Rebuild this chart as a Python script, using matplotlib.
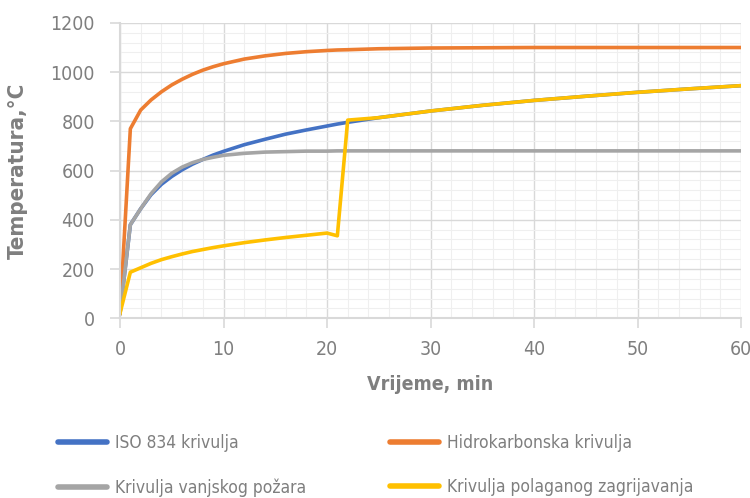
import matplotlib

matplotlib.use("Agg")
import matplotlib.pyplot as plt
from matplotlib.ticker import MultipleLocator

plt.rcParams["font.family"] = ["DejaVu Sans"]
plt.rcParams["font.stretch"] = "condensed"

# vrijeme (min)
t = [0, 1, 2, 3, 4, 5, 6, 7, 8, 9, 10, 12, 14, 16, 18, 20, 21, 22, 25, 30, 35, 40, 45, 50, 55, 60]

iso834 = [20, 380, 445, 502, 544, 576, 603, 626, 645, 663, 678, 705, 727, 748, 765, 781,
          789, 796, 815, 842, 865, 885, 902, 918, 932, 945]
hidro = [20, 770, 846, 887, 920, 948, 971, 991, 1008, 1022, 1034, 1053, 1066, 1076, 1083, 1088,
         1090, 1091, 1095, 1098, 1099, 1100, 1100, 1100, 1100, 1100]
vanjski = [20, 380, 445, 506, 554, 589, 614, 632, 645, 654, 662, 670, 675, 677, 679, 679,
           680, 680, 680, 680, 680, 680, 680, 680, 680, 680]
polagano = [20, 187, 205, 223, 238, 250, 261, 271, 279, 287, 294, 307, 318, 328, 337, 346,
            335, 805, 815, 842, 865, 885, 902, 918, 932, 945]

labels = ["ISO 834 krivulja", "Hidrokarbonska krivulja",
          "Krivulja vanjskog požara", "Krivulja polaganog zagrijavanja"]
colors = ["#4472C4", "#ED7D31", "#A5A5A5", "#FFC000"]
grey_txt = "#7f7f7f"

fig = plt.figure(figsize=(7.5, 4.98), dpi=100)
ax = fig.add_axes([0.16, 0.361, 0.828, 0.593])

series = [iso834, hidro, vanjski, polagano]
lines = []
for y, lab, c in zip(series, labels, colors):
    ln, = ax.plot(t, y, color=c, lw=2.6, label=lab, solid_joinstyle="round")
    lines.append(ln)

ax.set_xlim(0, 60)
ax.set_ylim(0, 1200)
ax.xaxis.set_major_locator(MultipleLocator(10))
ax.xaxis.set_minor_locator(MultipleLocator(2))
ax.yaxis.set_major_locator(MultipleLocator(200))
ax.yaxis.set_minor_locator(MultipleLocator(40))
ax.grid(which="major", color="#d9d9d9", lw=1.0)
ax.grid(which="minor", color="#efefef", lw=0.8)
ax.set_axisbelow(True)

for s in ("top", "right"):
    ax.spines[s].set_visible(False)
for s in ("left", "bottom"):
    ax.spines[s].set_color("#d9d9d9")
    ax.spines[s].set_linewidth(1.5)
ax.tick_params(which="major", length=7, width=1.2, color="#d9d9d9", labelcolor=grey_txt,
               labelsize=14)
ax.tick_params(axis="y", which="major", pad=11)
ax.tick_params(axis="x", which="major", pad=9)
ax.tick_params(which="minor", length=0)

ax.set_xlabel("Vrijeme, min", fontsize=14, fontweight="bold", color=grey_txt, labelpad=11)
ax.set_ylabel("Temperatura,°C", fontsize=16, fontweight="bold", color=grey_txt, labelpad=16)

order = [0, 2, 1, 3]
leg = fig.legend([lines[i] for i in order], [labels[i] for i in order],
                 loc="upper left", bbox_to_anchor=(0.057, 0.159), ncol=2, frameon=False,
                 fontsize=12.5, handlelength=2.8, handletextpad=0.45, columnspacing=4.85,
                 labelspacing=1.5)
for txt in leg.get_texts():
    txt.set_color(grey_txt)
for h in leg.legend_handles:
    h.set_linewidth(4)
    h.set_solid_capstyle("round")

fig.savefig("out.png", dpi=100)
